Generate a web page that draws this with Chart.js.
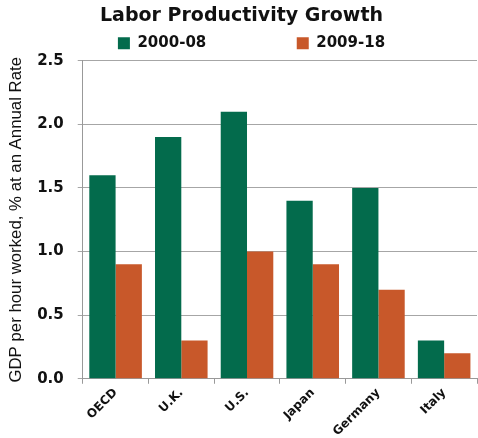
<!DOCTYPE html>
<html>
<head>
<meta charset="utf-8">
<script src="https://cdn.jsdelivr.net/npm/chart.js@4"></script>
<style>
html,body{margin:0;padding:0;background:#fff;}
#wrap{width:478px;height:438px;}
</style>
</head>
<body>
<div id="wrap"><canvas id="chart" width="478" height="438"></canvas></div>
<script>
const countries=["OECD","U.K.","U.S.","Japan","Germany","Italy"];
const early=[1.6,1.9,2.1,1.4,1.5,0.3];
const late=[0.9,0.3,1.0,0.9,0.7,0.2];
const seriesNames=["2000-08","2009-18"];

const green="#036b4c";
const orange="#c8582a";
const bold="'DejaVu Sans'";

// wide gap between the two legend entries, as in the original
const gap="\u2003\u2003\u2003\u2003\u2003\u2002";

// legend sits a bit right of centre in the original
const nudgeLegend={
id:"nudgeLegend",
afterLayout(chart){
chart.legend.left+=20;
}
};

new Chart(
document.getElementById("chart"),
{
type:"bar",
data:{
labels:countries,
datasets:[
{label:seriesNames[0],data:early,backgroundColor:green},
{label:seriesNames[1],data:late,backgroundColor:orange}
]
},
options:{
responsive:false,
animation:false,
layout:{padding:{left:6,right:1,top:5,bottom:-3}},
plugins:{
title:{
display:true,
text:"Labor Productivity Growth",
color:"#111",
font:{family:bold,size:19,weight:"bold"},
padding:{top:0,bottom:0}
},
legend:{
position:"top",
labels:{
boxWidth:12,
boxHeight:12,
padding:8,
color:"#111",
font:{family:bold,size:15,weight:"bold"},
generateLabels:(chart)=>{
const items=Chart.defaults.plugins.legend.labels.generateLabels(chart);
items[0].text=items[0].text+gap;
return items;
}
}
},
tooltip:{enabled:false}
},
scales:{
x:{
offset:true,
grid:{
offset:true,
drawOnChartArea:false,
drawTicks:true,
tickLength:5,
color:"#999"
},
border:{color:"#999"},
ticks:{
maxRotation:45,
minRotation:45,
padding:2,
color:"#111",
font:{family:bold,size:12,weight:"bold"}
}
},
y:{
min:0,
max:2.5,
ticks:{
stepSize:0.5,
color:"#111",
padding:14,
font:{family:bold,size:15,weight:"bold"},
callback:(v)=>Number(v).toFixed(1)
},
grid:{color:"#a6a6a6",tickLength:5},
border:{color:"#999"},
title:{
display:true,
text:"GDP per hour worked, % at an Annual Rate",
color:"#111",
font:{family:"'Liberation Sans'",size:16.8},
padding:{top:0,bottom:-3}
}
}
},
datasets:{bar:{categoryPercentage:0.8,barPercentage:1}}
},
plugins:[nudgeLegend]
}
);
</script>
</body>
</html>
